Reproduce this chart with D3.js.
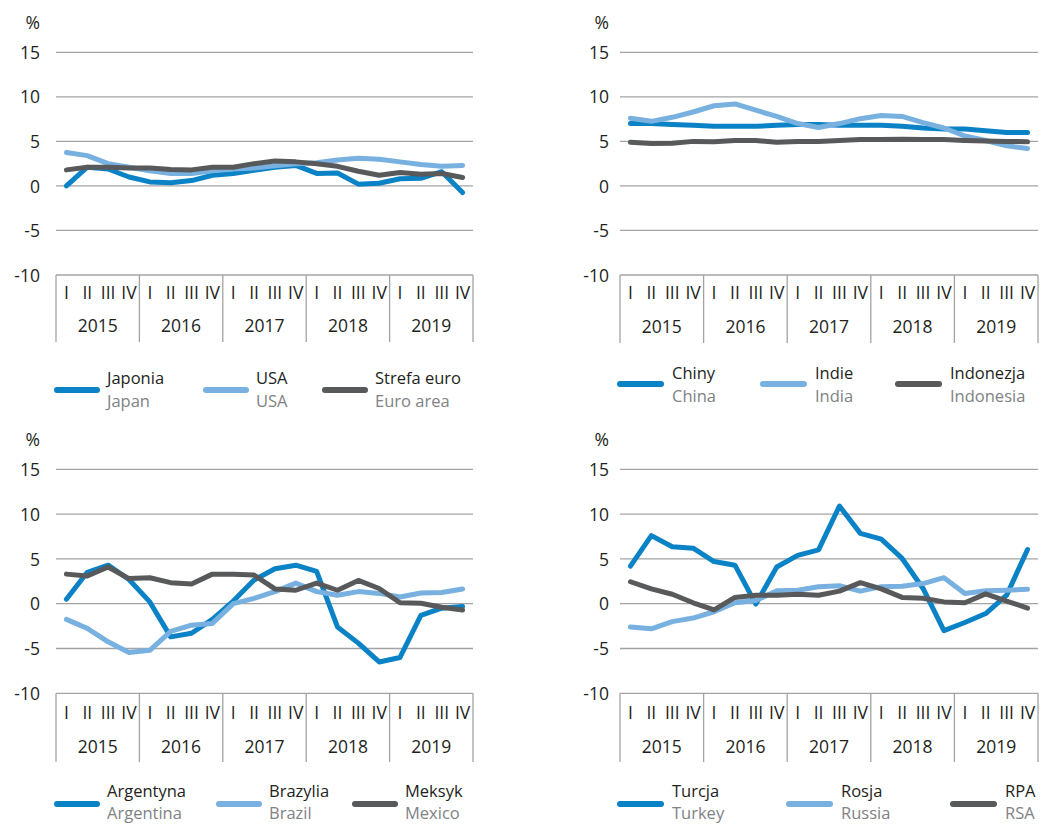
<!DOCTYPE html>
<html><head><meta charset="utf-8">
<script src="https://cdn.jsdelivr.net/npm/d3@7"></script>
<style>
body{margin:0;background:#fff;}
text{font-family:"Open Sans","Noto Sans",sans-serif;}
</style></head>
<body>
<svg id="chart" width="1041" height="825"></svg>
<script>
// ---------- DATA ----------
const quarters = ["I","II","III","IV"];
const years = ["2015","2016","2017","2018","2019"];
const yTicks = [-10,-5,0,5,10,15];
const unitLabel = "%";

const japan = [0.0,2.1,1.9,1.0,0.45,0.35,0.6,1.2,1.4,1.75,2.1,2.3,1.4,1.45,0.2,0.3,0.8,0.85,1.6,-0.75];
const usa   = [3.75,3.4,2.5,2.1,1.7,1.4,1.4,1.7,1.9,2.0,2.25,2.5,2.6,2.9,3.1,3.0,2.7,2.4,2.2,2.3];
const euro  = [1.8,2.1,2.1,2.0,2.0,1.85,1.8,2.1,2.1,2.5,2.8,2.7,2.5,2.2,1.65,1.2,1.5,1.3,1.4,0.95];

const china     = [7.0,7.0,6.9,6.8,6.7,6.7,6.7,6.8,6.9,6.9,6.8,6.8,6.8,6.7,6.5,6.4,6.4,6.2,6.0,6.0];
const india     = [7.6,7.25,7.7,8.3,9.0,9.2,8.5,7.8,7.0,6.55,7.0,7.55,7.9,7.8,7.1,6.5,5.6,5.1,4.5,4.2];
const indonesia = [4.9,4.75,4.8,5.0,4.95,5.1,5.1,4.9,5.0,5.0,5.1,5.2,5.2,5.25,5.2,5.2,5.1,5.05,5.0,4.95];

const argentina = [0.5,3.5,4.3,2.7,0.2,-3.7,-3.3,-1.75,0.3,2.65,3.9,4.3,3.6,-2.6,-4.4,-6.5,-6.0,-1.3,-0.5,-0.3];
const brazil    = [-1.75,-2.75,-4.25,-5.45,-5.2,-3.1,-2.4,-2.2,0.0,0.6,1.35,2.3,1.35,0.95,1.35,1.15,0.75,1.2,1.25,1.65];
const mexico    = [3.3,3.1,4.1,2.8,2.9,2.35,2.2,3.3,3.3,3.2,1.65,1.5,2.3,1.5,2.6,1.7,0.1,0.05,-0.4,-0.7];

const turkey = [4.2,7.6,6.35,6.2,4.7,4.3,-0.05,4.1,5.4,6.0,10.9,7.85,7.2,5.05,1.7,-3.0,-2.1,-1.1,0.95,6.05];
const russia = [-2.6,-2.8,-2.0,-1.6,-0.9,0.1,0.35,1.45,1.5,1.9,2.0,1.4,1.9,1.95,2.25,2.9,1.15,1.45,1.5,1.6];
const rsa    = [2.45,1.65,1.05,0.1,-0.7,0.7,0.95,0.95,1.05,0.95,1.4,2.35,1.65,0.7,0.6,0.2,0.1,1.1,0.3,-0.5];

const namesPL1 = ["Japonia","USA","Strefa euro"], namesEN1 = ["Japan","USA","Euro area"];
const namesPL2 = ["Chiny","Indie","Indonezja"],   namesEN2 = ["China","India","Indonesia"];
const namesPL3 = ["Argentyna","Brazylia","Meksyk"], namesEN3 = ["Argentina","Brazil","Mexico"];
const namesPL4 = ["Turcja","Rosja","RPA"],        namesEN4 = ["Turkey","Russia","RSA"];

// ---------- LAYOUT / STYLE ----------
const colors = ["#0a82c6","#78b1e0","#58595b"];
const gridColor = "#a3a3a3";
const fs = 17.5;
const legFs = 16.5;

const panels = [
  {series:[japan,usa,euro], pl:namesPL1, en:namesEN1, x0:56, x1:473, yTop:52.3, yBot:275, boxBot:342, labX:40, qY:299, yrY:332,
   leg:{lineY:390, plY:384, enY:407, items:[55,204,323], len:44, gap:8}},
  {series:[china,india,indonesia], pl:namesPL2, en:namesEN2, x0:620, x1:1038, yTop:52.3, yBot:275, boxBot:343, labX:609, qY:299, yrY:333,
   leg:{lineY:384, plY:379, enY:402, items:[618,761,896], len:45, gap:9}},
  {series:[argentina,brazil,mexico], pl:namesPL3, en:namesEN3, x0:56, x1:473, yTop:469.3, yBot:693.3, boxBot:762, labX:40, qY:719, yrY:753,
   leg:{lineY:804, plY:797, enY:819, items:[55,217,353], len:44, gap:8}},
  {series:[turkey,russia,rsa], pl:namesPL4, en:namesEN4, x0:620, x1:1038, yTop:469.3, yBot:693.3, boxBot:762, labX:609, qY:719, yrY:753,
   leg:{lineY:804, plY:797, enY:819, items:[618,787,951], len:45, gap:9}}
];

const svg = d3.select("#chart");
const periods = [];
years.forEach(y => quarters.forEach(q => periods.push(y + "-" + q)));

panels.forEach(p => {
  const g = svg.append("g");
  const x = d3.scaleBand().domain(periods).range([p.x0, p.x1]).padding(0);
  const xy = d3.scaleBand().domain(years).range([p.x0, p.x1]).padding(0);
  const y = d3.scaleLinear().domain([-10, 15]).range([p.yBot, p.yTop]);

  // y labels via axis
  const yAxis = d3.axisLeft(y).tickValues(yTicks).tickSize(0).tickFormat(d => d);
  const ga = g.append("g").attr("transform", `translate(${p.x0},0)`).call(yAxis);
  ga.select(".domain").remove();
  ga.selectAll("text").attr("x", p.labX - p.x0).attr("dy", "0.35em")
    .attr("font-size", fs).attr("fill", "#231f20").attr("font-family", '"Open Sans",sans-serif')
    .attr("text-anchor","end");
  // gridlines
  g.append("g").selectAll("line").data(yTicks).join("line")
    .attr("x1", p.x0).attr("x2", p.x1).attr("y1", d => y(d)).attr("y2", d => y(d))
    .attr("stroke", gridColor).attr("stroke-width", 1.3);

  // unit
  g.append("text").attr("x", p.labX).attr("y", p.yTop - 29).attr("dy","0.35em")
    .attr("text-anchor","end").attr("font-size", fs).attr("fill","#231f20").text(unitLabel);

  // category box
  const sepX = years.map(yr => xy(yr)).concat([p.x1]);
  g.append("g").selectAll("line").data(sepX).join("line")
    .attr("x1", d => d).attr("x2", d => d).attr("y1", p.yBot).attr("y2", p.boxBot)
    .attr("stroke", gridColor).attr("stroke-width", 1.3);
  g.append("g").selectAll("text").data(periods).join("text")
    .attr("x", d => x(d) + x.bandwidth()/2).attr("y", p.qY)
    .attr("text-anchor","middle").attr("font-size", fs).attr("fill","#231f20")
    .text(d => d.split("-")[1]);
  g.append("g").selectAll("text").data(years).join("text")
    .attr("x", d => xy(d) + xy.bandwidth()/2).attr("y", p.yrY)
    .attr("text-anchor","middle").attr("font-size", fs).attr("fill","#231f20")
    .text(d => d);

  // lines
  const line = d3.line().x((d,i) => x(periods[i]) + x.bandwidth()/2).y(d => y(d));
  p.series.forEach((s, k) => {
    g.append("path").datum(s).attr("d", line).attr("fill","none")
      .attr("stroke", colors[k]).attr("stroke-width", 5)
      .attr("stroke-linejoin","round").attr("stroke-linecap","round");
  });

  // legend
  p.leg.items.forEach((lx, k) => {
    g.append("line").attr("x1", lx + 2).attr("x2", lx + p.leg.len - 2)
      .attr("y1", p.leg.lineY).attr("y2", p.leg.lineY)
      .attr("stroke", colors[k]).attr("stroke-width", 6).attr("stroke-linecap","round");
    const tx = lx + p.leg.len + p.leg.gap;
    g.append("text").attr("x", tx).attr("y", p.leg.plY).attr("font-size", legFs)
      .attr("fill","#231f20").text(p.pl[k]);
    g.append("text").attr("x", tx).attr("y", p.leg.enY).attr("font-size", legFs)
      .attr("fill","#808285").text(p.en[k]);
  });
});
</script>
</body></html>
